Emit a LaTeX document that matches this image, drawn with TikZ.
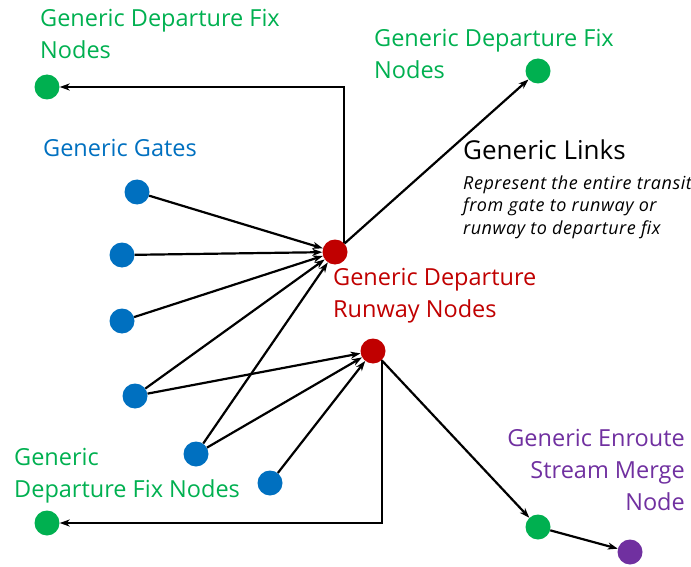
\documentclass[tikz,border=0pt]{standalone}
\usepackage{fontspec}
\setmainfont{Open Sans}
\usetikzlibrary{arrows.meta}
\definecolor{cgreen}{HTML}{00B050}
\definecolor{cblue}{HTML}{0070C0}
\definecolor{cred}{HTML}{C00000}
\definecolor{cpurple}{HTML}{7030A0}
\definecolor{tgreen}{HTML}{00B050}
\begin{document}
\begin{tikzpicture}[x=1pt,y=-1pt,
  dot/.style={circle,minimum size=25pt,inner sep=0pt,fill=#1},
  lab/.style={font=\fontsize{23.5}{32}\selectfont,text=#1,inner sep=0pt},
  arr/.style={-{Stealth[length=10pt,width=7pt,inset=3pt]},line width=2.2pt,black}]
\useasboundingbox (0,0) rectangle (691,567);
% nodes
\node[dot=cgreen] (gtl) at (47,87) {};
\node[dot=cgreen] (gtr) at (538,71) {};
\node[dot=cblue] (b1) at (137,192) {};
\node[dot=cblue] (b2) at (122,255) {};
\node[dot=cblue] (b3) at (122,321) {};
\node[dot=cblue] (b4) at (135,396) {};
\node[dot=cblue] (b5) at (196,454) {};
\node[dot=cblue] (b6) at (270,483) {};
\node[dot=cred] (r1) at (335,252) {};
\node[dot=cred] (r2) at (373,351) {};
\node[dot=cgreen] (gbl) at (47,523) {};
\node[dot=cgreen] (gbr) at (538,527) {};
\node[dot=cpurple] (p) at (630,552) {};
% labels
\node[lab=tgreen,anchor=north west,align=left] (ltl) at (40,9.4) {Generic Departure Fix\\Nodes};
\node[lab=tgreen,anchor=north west,align=left] (ltr) at (374,29.4) {Generic Departure Fix\\Nodes};
\node[lab=cblue,anchor=base west] (lg) at (43,157) {Generic Gates};
\node[lab=cred,anchor=north west,align=left] (lr) at (333,268.4) {Generic Departure\\Runway Nodes};
\node[lab=tgreen,anchor=north west,align=left] (lbl) at (14,448.4) {Generic\\Departure Fix Nodes};
\node[lab=cpurple,anchor=north east,align=right] (lp) at (685,429.4) {Generic Enroute\\Stream Merge\\Node};
\node[font=\fontsize{26}{30}\selectfont,anchor=base west,inner sep=0pt] (ll) at (463,160) {Generic Links};
\node[font=\fontsize{18}{22.5}\selectfont\itshape\addfontfeatures{LetterSpace=3},anchor=north west,align=left,inner sep=0pt] (ld) at (463,175.5) {Represent the entire transit\\from gate to runway or\\runway to departure fix};
% connectors
\draw[arr] (r1.north east) |- (gtl);
\draw[arr] (r1) -- (gtr);
\foreach \b in {b1,b2,b3,b4,b5} \draw[arr] (\b) -- (r1);
\foreach \b in {b4,b5,b6} \draw[arr] (\b) -- (r2);
\draw[arr] (r2.south east) |- (gbl);
\draw[arr] (r2) -- (gbr);
\draw[arr] (gbr) -- (p);
\end{tikzpicture}
\end{document}
